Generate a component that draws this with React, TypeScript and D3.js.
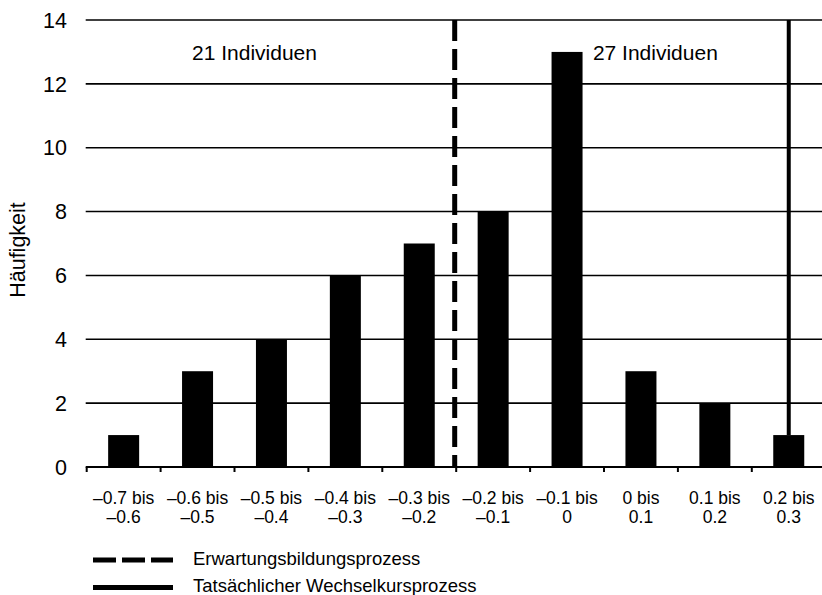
import React from "react";
import * as d3 from "d3";

const labelTop = ["–0.7 bis", "–0.6 bis", "–0.5 bis", "–0.4 bis", "–0.3 bis", "–0.2 bis", "–0.1 bis", "0 bis", "0.1 bis", "0.2 bis"];
const labelBottom = ["–0.6", "–0.5", "–0.4", "–0.3", "–0.2", "–0.1", "0", "0.1", "0.2", "0.3"];
const binStart = [-0.7, -0.6, -0.5, -0.4, -0.3, -0.2, -0.1, 0, 0.1, 0.2];
const frequency = [1, 3, 4, 6, 7, 8, 13, 3, 2, 1];
const yTicks = [0, 2, 4, 6, 8, 10, 12, 14];
const expectationValue = -0.2;
const actualValue = 0.25;
const groupLabels = [
  { text: "21 Individuen", x: -0.5575 },
  { text: "27 Individuen", x: -0.015 },
];
const legendItems = [
  { text: "Erwartungsbildungsprozess", dashed: true },
  { text: "Tatsächlicher Wechselkursprozess", dashed: false },
];

const W = 822;
const H = 595;
const left = 86.7;
const step = 73.9;
const x = d3.scaleLinear().domain([-0.7, 0.3]).range([left, left + step * 10]);
const y = d3.scaleLinear().domain([0, 14]).range([467, 20]);
const barW = 31;
const font = "'Liberation Sans', Arial, Helvetica, sans-serif";

export default function App() {
  return (
    <div style={{ position: "fixed", left: 0, top: 0, width: W, height: H, background: "#fff" }}>
      <svg width={W} height={H} style={{ display: "block", fontFamily: font }}>
        <rect width={W} height={H} fill="#fff" />
        {yTicks.filter((t) => t > 0).map((t) => (
          <line key={t} x1={left - 1} x2={W} y1={y(t)} y2={y(t)} stroke="#000" strokeWidth={1.6} />
        ))}
        {yTicks.map((t) => (
          <text key={"yl" + t} x={67} y={y(t)} dy="0.36em" textAnchor="end" fontSize={21.5} fill="#000">
            {t}
          </text>
        ))}
        <text transform={`translate(25,250) rotate(-90)`} textAnchor="middle" fontSize={21.5} fill="#000">
          Häufigkeit
        </text>
        {frequency.map((v, i) => {
          const cx = x(binStart[i] + 0.05);
          return <rect key={"b" + i} x={cx - barW / 2} y={y(v)} width={barW} height={y(0) - y(v)} fill="#000" />;
        })}
        <line x1={left - 1} x2={W} y1={y(0)} y2={y(0)} stroke="#000" strokeWidth={2.2} />
        {d3.range(11).map((i) => (
          <line key={"t" + i} x1={x(-0.7 + i * 0.1)} x2={x(-0.7 + i * 0.1)} y1={y(0)} y2={y(0) + 5} stroke="#000" strokeWidth={2} />
        ))}
        {labelTop.map((t, i) => {
          const cx = x(binStart[i] + 0.05);
          return (
            <text key={"xl" + i} x={cx} textAnchor="middle" fontSize={17.5} fill="#000">
              <tspan x={cx} y={504}>{t}</tspan>
              <tspan x={cx} y={523}>{labelBottom[i]}</tspan>
            </text>
          );
        })}
        <line x1={x(expectationValue) - 1.5} x2={x(expectationValue) - 1.5} y1={y(14)} y2={y(0)} stroke="#000" strokeWidth={5} strokeDasharray="21,8" />
        <line x1={x(actualValue)} x2={x(actualValue)} y1={y(14)} y2={y(frequency[9])} stroke="#000" strokeWidth={4} />
        {groupLabels.map((g) => (
          <text key={g.text} x={x(g.x)} y={60} textAnchor="start" fontSize={21} fill="#000">
            {g.text}
          </text>
        ))}
        {legendItems.map((l, i) => {
          const ly = 560 + i * 27.5;
          return (
            <g key={l.text}>
              <line x1={93} x2={173} y1={ly} y2={ly} stroke="#000" strokeWidth={5} strokeDasharray={l.dashed ? "23,6" : undefined} />
              <text x={193} y={ly + 4.5} fontSize={18.5} fill="#000">
                {l.text}
              </text>
            </g>
          );
        })}
      </svg>
    </div>
  );
}
